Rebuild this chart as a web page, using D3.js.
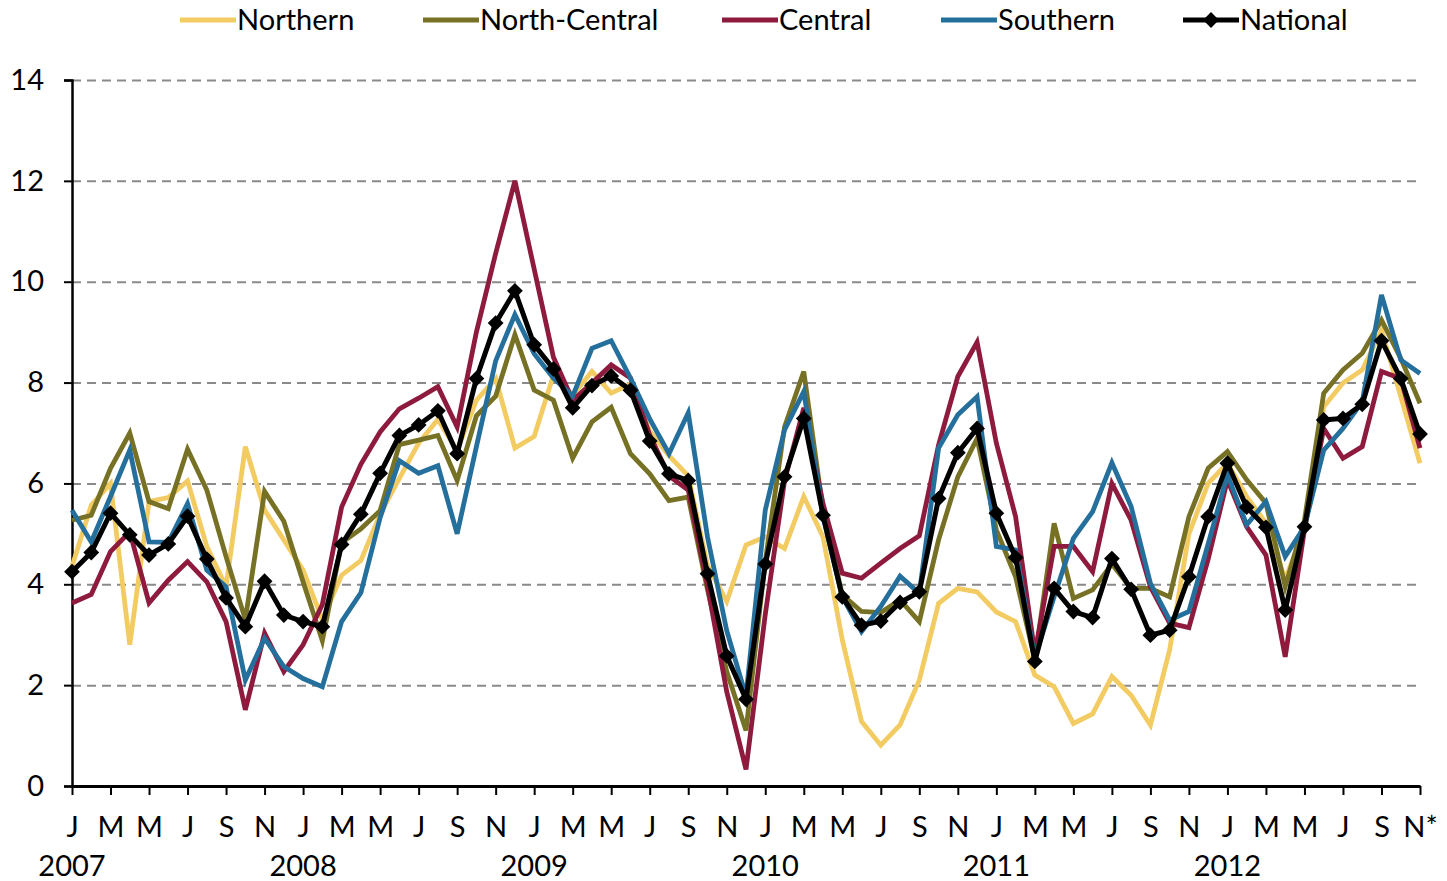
<!DOCTYPE html>
<html>
<head>
<meta charset="utf-8">
<script src="https://cdn.jsdelivr.net/npm/d3@7.9.0/dist/d3.min.js"></script>
<style>
  body { margin: 0; background: #fff; }
  svg { display: block; font-family: Lato, "Open Sans", sans-serif; }
  .gridlines line { stroke: #8a8a8a; stroke-width: 2; stroke-dasharray: 9 6; }
  .gridlines path { display: none; }
  .axis path, .axis line { stroke: #000; }
  .axis text { font-size: 29px; fill: #000; font-family: Lato, "Open Sans", sans-serif; }
  .legend text { font-size: 29px; fill: #000; }
</style>
</head>
<body>
<div id="chart"></div>
<script>
// monthly values, Jan 2007 .. Nov 2012
const northern = [
  4.35, 5.57, 6.0, 2.8, 5.64, 5.72, 6.05, 4.75, 3.95, 6.73, 5.47, 4.88, 4.28,
  3.3, 4.18, 4.47, 5.39, 6.1, 6.8, 7.27, 6.65, 7.65, 8.08, 6.7, 6.93,
  8.15, 7.75, 8.22, 7.79, 7.97, 7.04, 6.55, 6.15, 4.37, 3.66, 4.78, 4.94,
  4.71, 5.74, 4.94, 2.9, 1.28, 0.81, 1.21, 2.1, 3.62, 3.92, 3.85, 3.45,
  3.26, 2.2, 1.97, 1.24, 1.43, 2.17, 1.8, 1.21, 2.7, 5.0, 6.0, 6.4,
  5.74, 5.21, 4.1, 5.08, 7.52, 7.99, 8.25, 9.04, 7.72, 6.4
];
const northCentral = [
  5.27, 5.37, 6.3, 7.0, 5.64, 5.5, 6.68, 5.87, 4.55, 3.3, 5.84, 5.25, 4.05,
  2.88, 4.82, 5.1, 5.46, 6.77, 6.86, 6.95, 6.06, 7.34, 7.73, 8.95, 7.85,
  7.65, 6.5, 7.22, 7.51, 6.59, 6.19, 5.66, 5.73, 3.89, 2.27, 1.1, 4.45,
  7.12, 8.22, 5.47, 3.79, 3.46, 3.44, 3.69, 3.26, 4.88, 6.13, 6.89, 5.08,
  4.15, 2.5, 5.21, 3.72, 3.89, 4.4, 3.92, 3.92, 3.75, 5.34, 6.3, 6.63,
  6.07, 5.61, 3.95, 5.27, 7.79, 8.25, 8.58, 9.24, 8.48, 7.59
];
const central = [
  3.63, 3.8, 4.65, 5.04, 3.63, 4.08, 4.45, 4.05, 3.26, 1.51, 3.03, 2.27, 2.8,
  3.6, 5.53, 6.38, 7.02, 7.48, 7.69, 7.92, 7.12, 9.0, 10.56, 12.0, 10.25,
  8.5, 7.65, 7.99, 8.35, 8.09, 6.96, 6.15, 5.87, 3.97, 1.87, 0.33, 3.4,
  6.05, 7.5, 5.6, 4.22, 4.12, 4.42, 4.71, 4.96, 6.76, 8.12, 8.8, 6.8,
  5.34, 2.63, 4.75, 4.75, 4.25, 6.0, 5.27, 3.95, 3.23, 3.14, 4.5, 6.07,
  5.14, 4.58, 2.56, 5.08, 7.09, 6.5, 6.73, 8.22, 8.08, 6.7
];
const southern = [
  5.47, 4.84, 5.74, 6.66, 4.84, 4.83, 5.6, 4.28, 3.95, 2.1, 2.93, 2.37, 2.13,
  1.97, 3.26, 3.83, 5.32, 6.45, 6.2, 6.35, 5.0, 6.73, 8.43, 9.35, 8.57,
  8.09, 7.73, 8.68, 8.83, 8.09, 7.28, 6.59, 7.4, 4.94, 3.08, 1.78, 5.47,
  7.06, 7.82, 5.34, 3.75, 3.06, 3.56, 4.16, 3.82, 6.7, 7.36, 7.72, 4.75,
  4.68, 2.54, 3.75, 4.91, 5.44, 6.41, 5.54, 4.02, 3.29, 3.46, 4.8, 6.17,
  5.18, 5.64, 4.55, 5.14, 6.66, 7.09, 7.62, 9.74, 8.45, 8.18
];
const national = [
  4.25, 4.63, 5.41, 4.98, 4.58, 4.8, 5.35, 4.5, 3.73, 3.16, 4.06, 3.39, 3.26,
  3.16, 4.79, 5.39, 6.2, 6.95, 7.16, 7.44, 6.59, 8.08, 9.18, 9.82, 8.75,
  8.27, 7.5, 7.94, 8.13, 7.85, 6.84, 6.19, 6.06, 4.21, 2.58, 1.72, 4.4,
  6.13, 7.29, 5.37, 3.75, 3.19, 3.27, 3.64, 3.85, 5.7, 6.61, 7.09, 5.41,
  4.53, 2.47, 3.92, 3.46, 3.34, 4.51, 3.9, 2.99, 3.09, 4.15, 5.34, 6.4,
  5.53, 5.13, 3.49, 5.14, 7.26, 7.29, 7.57, 8.83, 8.08, 6.98
];

const seriesNames = ['Northern', 'North-Central', 'Central', 'Southern', 'National'];
const seriesColors = ['#f2cb62', '#767124', '#8e1b3d', '#256f9d', '#000000'];

// x tick labels, every second month
const monthTicks = [
  'J','M','M','J','S','N', 'J','M','M','J','S','N', 'J','M','M','J','S','N',
  'J','M','M','J','S','N', 'J','M','M','J','S','N', 'J','M','M','J','S','N*'
];
const years = ['2007', '2008', '2009', '2010', '2011', '2012'];
const yTicks = [0, 2, 4, 6, 8, 10, 12, 14];

const width = 1447;
const height = 881;
const margin = { top: 80, right: 27, bottom: 95, left: 72 };

const svg = d3.select('#chart')
  .append('svg')
  .attr('width', width)
  .attr('height', height);

const nMonths = national.length;
const xScale = d3.scaleLinear()
  .domain([0, nMonths - 1])
  .range([margin.left, width - margin.right]);
const yScale = d3.scaleLinear()
  .domain([0, 14])
  .range([height - margin.bottom, margin.top]);

// gridlines
svg.append('g')
  .attr('class', 'gridlines')
  .attr('transform', `translate(${margin.left}, 0)`)
  .call(d3.axisLeft(yScale)
    .tickValues(yTicks.filter(d => d > 0))
    .tickFormat('')
    .tickSize(-(width - margin.left - margin.right)));

// y axis
const yAxis = svg.append('g')
  .attr('class', 'axis')
  .attr('transform', `translate(${margin.left}, 0)`)
  .call(d3.axisLeft(yScale).tickValues(yTicks).tickSize(8).tickPadding(20));
yAxis.attr('font-family', null).attr('font-size', null);
yAxis.select('.domain').attr('stroke-width', 2.5);
yAxis.selectAll('.tick line').attr('stroke-width', 2);

// x axis
const tickIdx = d3.range(0, nMonths, 2);
const xAxis = svg.append('g')
  .attr('class', 'axis')
  .attr('transform', `translate(0, ${yScale(0)})`)
  .call(d3.axisBottom(xScale)
    .tickValues(tickIdx)
    .tickFormat((d, i) => monthTicks[i])
    .tickSize(9)
    .tickSizeOuter(0)
    .tickPadding(21));
xAxis.attr('font-family', null).attr('font-size', null);
xAxis.select('.domain').attr('stroke-width', 3);
xAxis.selectAll('.tick line').attr('stroke-width', 2);

xAxis.selectAll('.year')
  .data(years)
  .join('text')
  .attr('class', 'year')
  .attr('x', (d, i) => xScale(i * 12))
  .attr('y', 90)
  .attr('text-anchor', 'middle')
  .attr('fill', '#000')
  .style('font-size', '29px')
  .text(d => d);

// lines
const allSeries = [northern, northCentral, central, southern, national];
const line = d3.line()
  .x((d, i) => xScale(i))
  .y(d => yScale(d));

const lines = svg.append('g').attr('class', 'lines');
lines.selectAll('path')
  .data(allSeries)
  .join('path')
  .attr('d', d => line(d))
  .attr('fill', 'none')
  .attr('stroke', (d, i) => seriesColors[i])
  .attr('stroke-width', (d, i) => i === 4 ? 5 : 4.8)
  .attr('stroke-linejoin', 'miter');

const diamond = d3.symbol(d3.symbolSquare, 125);
svg.append('g')
  .attr('class', 'markers')
  .selectAll('path')
  .data(national)
  .join('path')
  .attr('d', diamond)
  .attr('transform', (d, i) => `translate(${xScale(i)},${yScale(d)}) rotate(45)`)
  .attr('fill', '#000');

// legend
const legendX = [180, 423, 722, 941, 1183];
const legend = svg.append('g').attr('class', 'legend');
const items = legend.selectAll('g')
  .data(seriesNames)
  .join('g')
  .attr('transform', (d, i) => `translate(${legendX[i]}, 20)`);
items.append('line')
  .attr('x1', 0).attr('x2', 56)
  .attr('stroke', (d, i) => seriesColors[i])
  .attr('stroke-width', 4.8);
items.filter(d => d === 'National')
  .append('path')
  .attr('d', diamond)
  .attr('transform', 'translate(28,0) rotate(45)')
  .attr('fill', '#000');
items.append('text')
  .attr('x', 57)
  .attr('dy', '0.35em')
  .text(d => d);
</script>
</body>
</html>
